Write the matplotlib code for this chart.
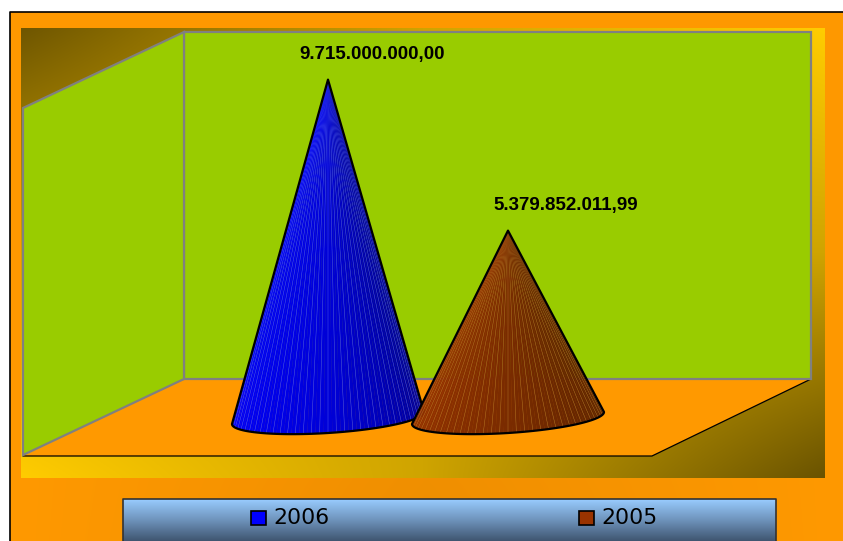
#3D cone chart, 2006 vs 2005
import numpy as np
import matplotlib
matplotlib.use('Agg')
import matplotlib.pyplot as plt
from matplotlib.patches import Polygon, Rectangle
from matplotlib.colors import to_rgb, LinearSegmentedColormap

#data
years = ['2006', '2005']
values = [9715000000.00, 5379852011.99]
value_labels = ['9.715.000.000,00', '5.379.852.011,99']

#cone styles
cone_x = [328, 508]
label_dx = [44, 58]
cone_colors = [['#0000ff', '#0000d8', '#00008c'], ['#993300', '#7a2b00', '#5a2400']]
facet_lines = ['#6677f5', '#c08a30']
legend_colors = ['#0000ff', '#993300']
legend_x = [251, 579]

#pixel scale for the value axis
base_y = 418
px_per_value = 338.4 / 9715000000.0
rim_w = 96
rim_h = 15
rim_skew = 6 / 96

fig = plt.figure(figsize=(8.43, 5.41), dpi=100)
ax = fig.add_axes([0, 0, 1, 1])
ax.axis('off')


def gradient(corners, extent, z):
    #stretch the colour grid so the ramp reaches the very edge of the box
    arr = np.array([[to_rgb(c) for c in row] for row in corners])
    rows, cols = arr.shape[:2]
    yy = np.linspace(0, rows - 1, 300)
    xx = np.linspace(0, cols - 1, 300)
    out = np.zeros((300, 300, 3))
    for k in range(3):
        by_row = np.array([np.interp(xx, np.arange(cols), arr[r, :, k]) for r in range(rows)])
        for c in range(300):
            out[:, c, k] = np.interp(yy, np.arange(rows), by_row[:, c])
    ax.imshow(out, extent=extent, aspect='auto', interpolation='bilinear', origin='upper', zorder=z)


#outer panel
gradient([['#ff9900', '#ff9900', '#ff9900'], ['#ff9900', '#ee8e00', '#ff9900']], (10, 843, 541, 12), 1)
ax.plot([10, 10, 843], [541, 12, 12], color='black', lw=1.2, zorder=2)

#plot area
gradient([['#6f5600', '#cfa400', '#ffcc00'],
          ['#cfa400', '#cfa400', '#cfa400'],
          ['#ffcc00', '#cfa400', '#6a5300']], (21, 825, 478, 28), 2)

#floor and walls
ax.add_patch(Polygon([(23, 456), (184, 379), (811, 379), (652, 456)], fc='#ff9900', ec='none', zorder=3))
ax.plot([23, 652, 811], [456, 456, 379], color='black', lw=0.9, zorder=4)
ax.add_patch(Polygon([(184, 32), (811, 32), (811, 379), (184, 379)], fc='#99cc00', ec='#808080', lw=1.6, zorder=4))
ax.add_patch(Polygon([(23, 108), (184, 32), (184, 379), (23, 455)], fc='#99cc00', ec='#808080', lw=1.6, zorder=4))

#cones
t = np.linspace(np.pi, 0, 73)
for i in range(len(values)):
    cx = cone_x[i]
    apex_y = base_y - values[i] * px_per_value
    dx = rim_w * np.cos(t)
    rim_xs = cx + dx
    rim_ys = base_y - dx * rim_skew + rim_h * np.sin(t)
    cmap = LinearSegmentedColormap.from_list('cone', cone_colors[i])
    z = 5 + i
    for j in range(len(t) - 1):
        ax.add_patch(Polygon([(cx, apex_y), (rim_xs[j], rim_ys[j]), (rim_xs[j + 1], rim_ys[j + 1])],
                             fc=cmap(j / (len(t) - 2)), ec=cmap(j / (len(t) - 2)), lw=0.3, zorder=z))
        if j % 2 == 0:
            ax.plot([cx, rim_xs[j]], [apex_y, rim_ys[j]], color=facet_lines[i], lw=0.35, alpha=0.7, zorder=z)
    ax.add_patch(Polygon(list(zip(rim_xs, rim_ys)) + [(cx, apex_y)], fc='none', ec='black', lw=1.6,
                         joinstyle='round', zorder=z))
    ax.text(cx + label_dx[i], apex_y - 25, value_labels[i], ha='center', va='center', fontsize=13.5,
            fontweight='bold', family='Liberation Sans', color='black', zorder=8)

#legend
gradient([['#99ccff'], ['#6e93bb'], ['#3f5570']], (123, 776, 541, 499), 3)
ax.plot([123, 123, 776, 776], [541, 499, 499, 541], color='#333333', lw=1.2, zorder=4)
for i in range(len(years)):
    ax.add_patch(Rectangle((legend_x[i], 511), 15, 14, fc=legend_colors[i], ec='black', lw=1.2, zorder=5))
    ax.text(legend_x[i] + 22, 518, years[i], ha='left', va='center', fontsize=15.8,
            family='DejaVu Sans', color='black', zorder=5)

ax.set_xlim(0, 843)
ax.set_ylim(541, 0)
fig.savefig('out.png', dpi=100, facecolor='white')
